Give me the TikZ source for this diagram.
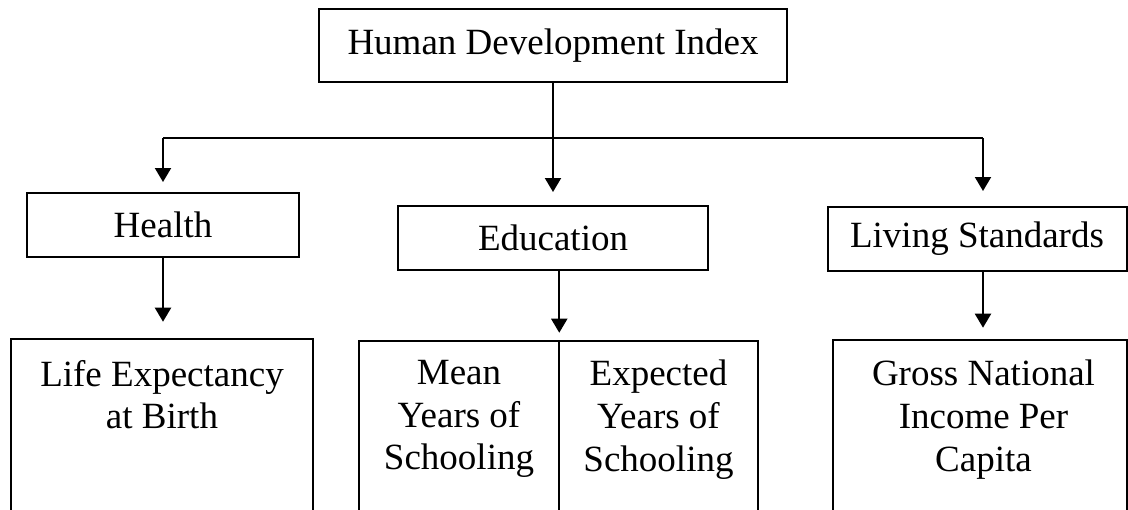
\documentclass[tikz,border=0pt]{standalone}
\usepackage{fontspec}
\setmainfont{Liberation Serif}
\usetikzlibrary{arrows.meta}
\begin{document}
\begin{tikzpicture}[x=0.75pt,y=-0.75pt,
  every node/.style={font=\fontsize{27.75pt}{32pt}\selectfont},
  box/.style={draw, line width=1.5pt, inner sep=0pt},
  open/.style={draw=none, inner sep=0pt},
  ln/.style={line width=1.5pt},
  arr/.style={ln, -{Triangle[length=10.5pt,width=12pt]}},
  txt/.style={align=center, inner sep=0pt, anchor=north}
]
\useasboundingbox (0,0) rectangle (1128,510);

% top-level boxes
\node[box, minimum width=351pt, minimum height=54.75pt] (top) at (553,45.5) {Human Development Index};
\node[box, minimum width=204pt, minimum height=48pt] (health) at (163,225) {Health};
\node[box, minimum width=232.5pt, minimum height=48pt] (edu) at (553,238) {Education};
\node[box, minimum width=224.25pt, minimum height=48pt] (living) at (977,239) {Living Standards};

% bottom boxes (open at the bottom)
\node[open, minimum width=226.5pt, minimum height=128.25pt] (life) at (162,424.5) {};
\node[open, minimum width=150pt, minimum height=126.75pt] (mean) at (459,425.5) {};
\node[open, minimum width=149.25pt, minimum height=126.75pt] (expct) at (658.5,425.5) {};
\node[open, minimum width=220.5pt, minimum height=127.5pt] (gross) at (980,425) {};

\draw[ln] (life.south west) |- (life.north east) -- (life.south east);
\draw[ln] (mean.south west) |- (expct.north east) -- (expct.south east);
\draw[ln] (mean.north east) -- (mean.south east);
\draw[ln] (gross.south west) |- (gross.north east) -- (gross.south east);

\node[txt] (lifet) at (162,360) {Life Expectancy\\at Birth};
\node[txt] (meant) at (459,360) {Mean\\Years of\\Schooling};
\node[txt] (expctt) at (658.5,360) {Expected\\Years of\\Schooling};
\node[txt] (grosst) at (983.5,360) {Gross National\\Income Per\\Capita};

% connectors
\coordinate (hub) at (553,138);
\coordinate (hl) at (163,138);
\coordinate (hr) at (983,138);
\draw[ln] (top.south) -- (hub);
\draw[ln] (hl) -- (hr);
\draw[arr, shorten >=7.5pt] (hl) -- (health.north);
\draw[arr, shorten >=9.75pt] (hub) -- (edu.north);
\draw[arr, shorten >=11.25pt] (hr) -- (hr |- living.north);

\draw[arr, shorten >=12.75pt] (health.south) -- (health.south |- life.north);
\draw[arr, shorten >=6pt] (edu.south -| mean.east) -- (mean.north east);
\draw[arr, shorten >=9pt] (living.south -| hr) -- (hr |- gross.north);
\end{tikzpicture}
\end{document}
